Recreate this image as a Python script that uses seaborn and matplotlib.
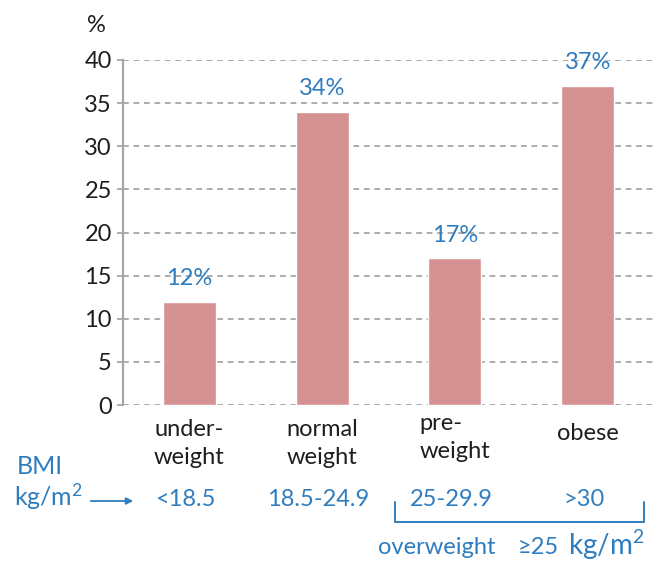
import matplotlib
matplotlib.use("Agg")
import matplotlib.pyplot as plt
import matplotlib.transforms as mtransforms
from matplotlib.lines import Line2D
from matplotlib.patches import FancyArrowPatch
import seaborn as sns
import pandas as pd

# BMI categories and share of people in each (%)
categories = ["under-\nweight", "normal\nweight", "pre-\nweight", "obese"]
percent = [12, 34, 17, 37]
bmi_ranges = ["<18.5", "18.5-24.9", "25-29.9", ">30"]
y_ticks = [0, 5, 10, 15, 20, 25, 30, 35, 40]

BAR = "#d69292"
BLUE = "#2f7dbf"
GRID = "#a6a6a6"
TEXT = "#1e1e1e"

sns.set_theme(style="white")
plt.rcParams["font.family"] = ["Lato", "DejaVu Sans"]
plt.rcParams["mathtext.fontset"] = "custom"
plt.rcParams["mathtext.rm"] = "Lato"
plt.rcParams["mathtext.it"] = "Lato"

W, H = 654, 561
fig = plt.figure(figsize=(W / 100, H / 100), dpi=100)
ax = fig.add_axes([123 / W, 1 - 405 / H, (W - 123) / W, (405 - 60) / H])

df = pd.DataFrame({"category": categories, "percent": percent})
sns.barplot(data=df, x="category", y="percent", color=BAR, width=0.4,
            saturation=1, ax=ax)

ax.set_xlim(-0.5, 3.5)
ax.set_ylim(0, 40)
ax.set_yticks(y_ticks)
ax.set_xlabel("")
ax.set_ylabel("")

# dashed horizontal grid behind the bars
ax.set_axisbelow(True)
ax.yaxis.grid(True, linestyle=(0, (3.2, 2.6)), color=GRID, linewidth=1.3)
ax.xaxis.grid(False)

for side in ["top", "right", "bottom"]:
    ax.spines[side].set_visible(False)
ax.spines["left"].set_color(GRID)
ax.spines["left"].set_linewidth(1.6)

ax.tick_params(axis="y", length=4, width=1.3, color=GRID, pad=4,
               labelsize=17, labelcolor=TEXT, left=True)
ax.tick_params(axis="x", length=0, pad=10, labelsize=17, labelcolor=TEXT)

# category labels: left-aligned lines, individual vertical nudges
nudges = [0, 0, 6, -4]
for lab, dy in zip(ax.get_xticklabels(), nudges):
    lab.set_multialignment("left")
    lab.set_linespacing(1.4)
    lab.set_transform(lab.get_transform() +
                      mtransforms.ScaledTranslation(0, dy / 100, fig.dpi_scale_trans))

# value labels on top of bars
ax.bar_label(ax.containers[0], labels=[f"{v}%" for v in percent],
             padding=9, color=BLUE, fontsize=17)

# unit above the y axis
fig.text(96 / W, 1 - 26 / H, "%", ha="center", va="center",
         fontsize=17, color=TEXT)


def fx(px):
    return px / W


def fy(py):
    return 1 - py / H


# BMI row beneath the categories
fig.text(fx(40), fy(466), "BMI", ha="center", va="center",
         fontsize=18, color=BLUE)
fig.text(fx(49), fy(497), r"kg/m$^2$", ha="center", va="center",
         fontsize=18, color=BLUE)
fig.add_artist(FancyArrowPatch(
    (fx(88), fy(501)), (fx(136), fy(501)), transform=fig.transFigure,
    arrowstyle="-|>", mutation_scale=10, color=BLUE, linewidth=1.3))

row_tf = mtransforms.blended_transform_factory(ax.transData, fig.transFigure)
for i, txt in enumerate(bmi_ranges):
    ax.text(i - 0.03, fy(500), txt, transform=row_tf, ha="center",
            va="center", fontsize=17, color=BLUE)

# bracket grouping pre-weight and obese as overweight
bx = [fx(395), fx(395), fx(644), fx(644)]
by = [fy(502), fy(522), fy(522), fy(502)]
fig.add_artist(Line2D(bx, by, transform=fig.transFigure, color=BLUE,
                      linewidth=1.4))
fig.text(fx(378), fy(547), "overweight", ha="left", va="center",
         fontsize=17, color=BLUE)
fig.text(fx(518), fy(547), "≥25", ha="left", va="center",
         fontsize=17, color=BLUE)
fig.text(fx(568), fy(545), r"kg/m$^2$", ha="left", va="center",
         fontsize=20, color=BLUE)

fig.savefig("out.png", dpi=100)
